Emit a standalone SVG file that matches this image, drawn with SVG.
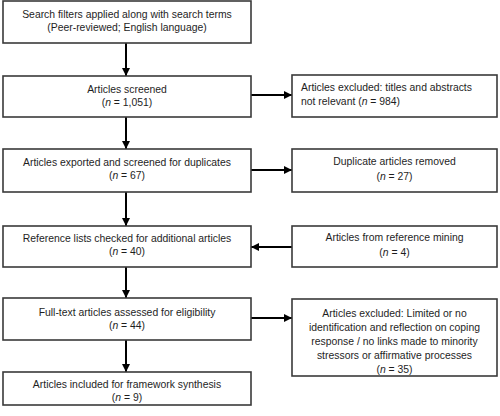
<svg xmlns="http://www.w3.org/2000/svg" width="500" height="416" viewBox="0 0 500 416">
<defs>
<marker id="ah" viewBox="0 0 10 10" refX="10" refY="5" markerWidth="4" markerHeight="4" orient="auto" markerUnits="strokeWidth">
<path d="M0,0 L10,5 L0,10 z" fill="#000"/>
</marker>
<style>
.box{fill:#fff;stroke:#3a3a3a;stroke-width:1.6}
.t{font-family:"Liberation Sans",Arial,sans-serif;font-size:10.4px;fill:#1e1e1e}
.c{text-anchor:middle}
.i{font-style:italic}
.arr{stroke:#000;stroke-width:2;fill:none;marker-end:url(#ah)}
</style>
</defs>
<rect width="500" height="416" fill="#fff"/>
<g id="connectors">
<line class="arr" x1="126" y1="43" x2="126" y2="76"/>
<line class="arr" x1="126" y1="117" x2="126" y2="149"/>
<line class="arr" x1="126" y1="192" x2="126" y2="226"/>
<line class="arr" x1="126" y1="267" x2="126" y2="298"/>
<line class="arr" x1="126" y1="340" x2="126" y2="372"/>
<line class="arr" x1="251" y1="95" x2="292" y2="95"/>
<line class="arr" x1="251" y1="170" x2="292" y2="170"/>
<line class="arr" x1="292" y1="247" x2="251" y2="247"/>
<line class="arr" x1="251" y1="318" x2="292" y2="318"/>
</g>
<g id="n1">
<rect class="box" x="3" y="1" width="248" height="42"/>
<text class="t c" x="127" y="18">Search filters applied along with search terms</text>
<text class="t c" x="127" y="31">(Peer-reviewed; English language)</text>
</g>
<g id="n2">
<rect class="box" x="3" y="76" width="248" height="41"/>
<text class="t c" x="127" y="93">Articles screened</text>
<text class="t c" x="127" y="106">(<tspan class="i">n</tspan> = 1,051)</text>
</g>
<g id="n3">
<rect class="box" x="3" y="149" width="248" height="43"/>
<text class="t c" x="127" y="166">Articles exported and screened for duplicates</text>
<text class="t c" x="127" y="179">(<tspan class="i">n</tspan> = 67)</text>
</g>
<g id="n4">
<rect class="box" x="3" y="226" width="248" height="41"/>
<text class="t c" x="127" y="242">Reference lists checked for additional articles</text>
<text class="t c" x="127" y="255">(<tspan class="i">n</tspan> = 40)</text>
</g>
<g id="n5">
<rect class="box" x="3" y="298" width="248" height="42"/>
<text class="t c" x="127" y="316">Full-text articles assessed for eligibility</text>
<text class="t c" x="127" y="329">(<tspan class="i">n</tspan> = 44)</text>
</g>
<g id="n6">
<rect class="box" x="3" y="372" width="248" height="33"/>
<text class="t c" x="127" y="388">Articles included for framework synthesis</text>
<text class="t c" x="127" y="401">(<tspan class="i">n</tspan> = 9)</text>
</g>
<g id="r1">
<rect class="box" x="292" y="75" width="205" height="42"/>
<text class="t" x="301" y="91">Articles excluded: titles and abstracts</text>
<text class="t" x="301" y="105">not relevant (<tspan class="i">n</tspan> = 984)</text>
</g>
<g id="r2">
<rect class="box" x="292" y="149" width="205" height="43"/>
<text class="t c" x="394.5" y="165">Duplicate articles removed</text>
<text class="t c" x="394.5" y="180">(<tspan class="i">n</tspan> = 27)</text>
</g>
<g id="r3">
<rect class="box" x="292" y="226" width="205" height="41"/>
<text class="t c" x="394.5" y="241">Articles from reference mining</text>
<text class="t c" x="394.5" y="256">(<tspan class="i">n</tspan> = 4)</text>
</g>
<g id="r4">
<rect class="box" x="292" y="299" width="205" height="77"/>
<text class="t c" x="394.5" y="317">Articles excluded: Limited or no</text>
<text class="t c" x="394.5" y="331">identification and reflection on coping</text>
<text class="t c" x="394.5" y="345">response / no links made to minority</text>
<text class="t c" x="394.5" y="359">stressors or affirmative processes</text>
<text class="t c" x="394.5" y="373">(<tspan class="i">n</tspan> = 35)</text>
</g>
</svg>
